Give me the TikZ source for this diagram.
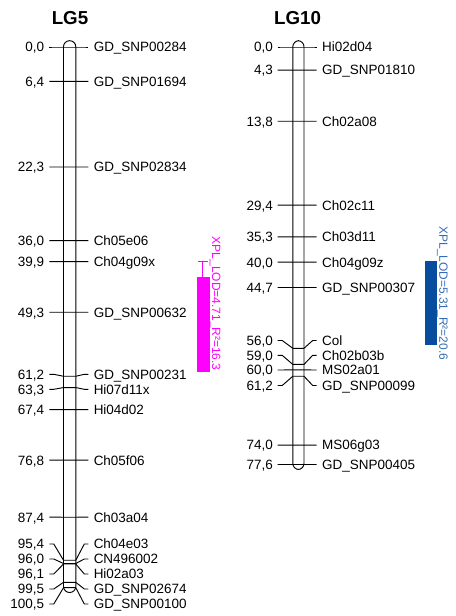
\documentclass[tikz,border=0pt]{standalone}
\usepackage{fontspec}
\setmainfont{Liberation Sans}
\usetikzlibrary{calc}
\usepackage{xcolor}
\definecolor{qtlmagenta}{RGB}{255,0,255}
\definecolor{qtlblue}{RGB}{8,76,158}
\definecolor{qtlbluetext}{RGB}{50,108,180}

\begin{document}
\begin{tikzpicture}[x=0.03cm, y=-0.03cm, line width=0.8pt,
    posnum/.style={anchor=east, inner sep=0pt, font=\fontsize{11.5}{13}\selectfont, text height=8.3pt, text depth=0pt},
    mrkname/.style={anchor=west, inner sep=0pt, font=\fontsize{11.5}{13}\selectfont, text height=8.3pt, text depth=0pt},
    lgtitle/.style={inner sep=0pt, font=\fontsize{16}{19}\selectfont\bfseries},
    qtltext/.style={rotate=-90, anchor=base west, inner sep=0pt, font=\fontsize{10.2}{12}\selectfont}]
    \useasboundingbox (0,0) rectangle (456,616);

    % Titles
    \node[lgtitle] (lg5) at (70,18.3) {LG5};
    \node[lgtitle] (lg10) at (297.5,18.3) {LG10};

    % LG5 bar
    \draw[rounded corners=5.2pt] (63.5,40.7) rectangle (75.8,592.5);

    % LG5 markers
    \foreach \cm/\ly/\num/\nm [count=\i] in {
        0.0/47/{0,0}/GD\_SNP00284, 6.4/81.43/{6,4}/GD\_SNP01694,
        22.3/166.97/{22,3}/GD\_SNP02834, 36.0/240.68/{36,0}/Ch05e06,
        39.9/261.66/{39,9}/Ch04g09x, 49.3/312.23/{49,3}/GD\_SNP00632,
        61.2/374.3/{61,2}/GD\_SNP00231, 63.3/389.3/{63,3}/Hi07d11x,
        67.4/409.61/{67,4}/Hi04d02, 76.8/460.18/{76,8}/Ch05f06,
        87.4/517.21/{87,4}/Ch03a04, 95.4/544/{95,4}/Ch04e03,
        96.0/559/{96,0}/CN496002, 96.1/574/{96,1}/Hi02a03,
        99.5/589/{99,5}/GD\_SNP02674, 100.5/604/{100,5}/GD\_SNP00100} {
        \pgfmathsetmacro\py{47+5.38*\cm}
        \node[posnum] (p5-\i) at (44.5,\ly) {\num};
        \node[mrkname] (m5-\i) at (93.3,\ly) {\nm};
        \draw ($(p5-\i.east)+(4.8,0)$) -- ++(4.5,0) -- (63.5,\py) -- (75.8,\py)
            -- ($(m5-\i.west)+(-9,0)$) -- ($(m5-\i.west)+(-5,0)$);
    }

    % LG10 bar
    \draw[rounded corners=5.2pt] (292.8,40.7) rectangle (304,469.5);

    % LG10 markers
    \foreach \cm/\ly/\num/\nm [count=\i] in {
        0.0/47/{0,0}/Hi02d04, 4.3/70.13/{4,3}/GD\_SNP01810,
        13.8/121.24/{13,8}/Ch02a08, 29.4/205.17/{29,4}/Ch02c11,
        35.3/236.91/{35,3}/Ch03d11, 40.0/262.2/{40,0}/Ch04g09z,
        44.7/287.49/{44,7}/GD\_SNP00307, 56.0/340.5/{56,0}/Col,
        59.0/355.3/{59,0}/Ch02b03b, 60.0/370/{60,0}/MS02a01,
        61.2/385.5/{61,2}/GD\_SNP00099, 74.0/445.12/{74,0}/MS06g03,
        77.6/464.49/{77,6}/GD\_SNP00405} {
        \pgfmathsetmacro\py{47+5.38*\cm}
        \node[posnum] (p10-\i) at (273.3,\ly) {\num};
        \node[mrkname] (m10-\i) at (321.7,\ly) {\nm};
        \draw ($(p10-\i.east)+(4.4,0)$) -- ++(4.5,0) -- (292.8,\py) -- (304,\py)
            -- ($(m10-\i.west)+(-9,0)$) -- ($(m10-\i.west)+(-5,0)$);
    }

    % LG5 QTL
    \fill[qtlmagenta] (196.7,277.3) rectangle (210,371.7);
    \draw[qtlmagenta, line width=1pt] (202.7,277.3) -- (202.7,261.7);
    \draw[qtlmagenta, line width=1pt] (198,261.7) -- (207.5,261.7);
    \node[qtltext, text=qtlmagenta] (q5) at (212,236.5) {XPL\_LOD=4.71\_R²=16.3};

    % LG10 QTL
    \fill[qtlblue] (425,260.7) rectangle (437.3,345);
    \node[qtltext, text=qtlbluetext] (q10) at (439.3,226) {XPL\_LOD=5.31\_R²=20.6};
\end{tikzpicture}
\end{document}
